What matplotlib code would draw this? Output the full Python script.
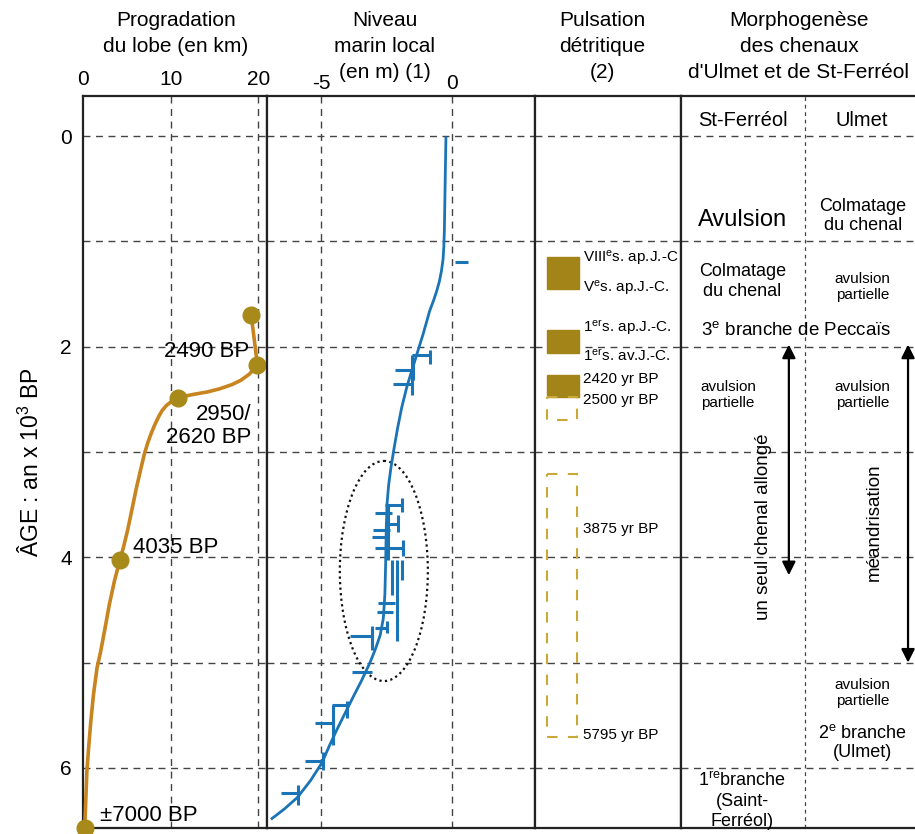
import matplotlib
matplotlib.use("Agg")
import matplotlib.pyplot as plt
from matplotlib.patches import Rectangle, Ellipse

plt.rcParams['font.family'] = ['Liberation Sans', 'DejaVu Sans']
plt.rcParams['mathtext.default'] = 'regular'
plt.rcParams['axes.unicode_minus'] = False

# --- data -------------------------------------------------------------
age_ticks = [0, 2, 4, 6]
grid_ages = [0, 1, 2, 3, 4, 5, 6]

# lobe progradation (km) vs age (x1000 yr BP)
lobe_km = [19.2, 19.9, 19.0, 18.0, 17.0, 15.6, 14.2, 12.8, 11.6, 10.8, 10.1, 9.5,
           9.0, 8.6, 8.2, 7.8, 7.4, 7.0, 6.6, 6.1, 5.6, 5.1, 4.6, 4.2,
           3.6, 3.0, 2.5, 2.0, 1.6, 1.2, 0.9, 0.65, 0.45, 0.32, 0.2]
lobe_age = [1.70, 2.17, 2.26, 2.32, 2.36, 2.40, 2.43, 2.45, 2.47, 2.49, 2.52, 2.56,
            2.61, 2.67, 2.74, 2.82, 2.91, 3.02, 3.16, 3.34, 3.54, 3.74, 3.91, 4.03,
            4.22, 4.45, 4.68, 4.90, 5.05, 5.30, 5.55, 5.80, 6.02, 6.30, 6.57]
dated_km = [19.2, 19.9, 10.8, 4.2, 0.2]
dated_age = [1.70, 2.17, 2.49, 4.03, 6.57]

# local sea level (m) vs age
sea_m = [-0.23, -0.25, -0.27, -0.29, -0.31, -0.34, -0.40, -0.48, -0.58, -0.70,
         -0.85, -1.1, -1.40, -1.72, -1.92, -2.08, -2.22, -2.33, -2.42, -2.48,
         -2.51, -2.53, -2.56, -2.62, -2.74, -2.92, -3.13, -3.45, -3.78, -4.1,
         -4.4, -4.68, -4.96, -5.4, -5.9, -6.4, -6.87]
sea_age = [0.02, 0.3, 0.6, 0.9, 1.05, 1.17, 1.28, 1.38, 1.47, 1.56,
           1.66, 1.88, 2.12, 2.38, 2.58, 2.78, 2.98, 3.15, 3.32, 3.5,
           3.75, 4.05, 4.35, 4.58, 4.74, 4.87, 5.0, 5.17, 5.33, 5.49,
           5.64, 5.79, 5.95, 6.12, 6.28, 6.39, 6.48]

# sample bars: horizontal ranges and vertical ranges
hbar_age = [1.20, 2.08, 2.22, 2.35, 3.50, 3.58, 3.68, 3.74, 3.81, 3.91, 4.43, 4.52,
            4.67, 4.75, 5.09, 5.40, 5.57, 5.93, 6.24]
hbar_lo = [0.11, -1.53, -2.18, -2.25, -2.56, -2.94, -2.56, -3.02, -3.05, -2.94, -2.82, -2.86,
           -2.94, -3.89, -3.82, -4.58, -5.23, -5.61, -6.53]
hbar_hi = [0.61, -0.84, -1.49, -1.53, -1.91, -2.29, -2.06, -2.37, -2.44, -1.87, -2.18, -2.25,
           -2.48, -3.05, -3.05, -4.01, -4.58, -4.92, -5.88]
vbar_m = [-0.84, -1.49, -1.53, -1.91, -2.06, -1.87, -2.44, -2.29, -2.10, -1.91,
          -2.48, -3.05, -4.01, -4.54, -4.92, -5.88]
vbar_top = [2.03, 2.11, 2.08, 3.44, 3.60, 3.84, 3.50, 4.03, 4.03, 4.03,
            4.60, 4.65, 5.36, 5.40, 5.85, 6.16]
vbar_bot = [2.16, 2.32, 2.46, 3.57, 3.76, 3.99, 4.03, 4.36, 4.79, 4.22,
            4.72, 4.88, 5.53, 5.78, 6.02, 6.35]

# detrital pulses
pulse_top = [1.15, 1.84, 2.27]
pulse_bot = [1.45, 2.06, 2.48]
pulse_dash_top = [2.48, 3.21]
pulse_dash_bot = [2.70, 5.71]
pulse_labels = ['VIII$^{e}$s. ap.J.-C', 'V$^{e}$s. ap.J.-C.', '1$^{er}$s. ap.J.-C.',
                '1$^{er}$s. av.J.-C.', '2420 yr BP', '2500 yr BP', '3875 yr BP', '5795 yr BP']
pulse_label_age = [1.16, 1.45, 1.82, 2.09, 2.31, 2.51, 3.73, 5.69]

# --- layout -----------------------------------------------------------
W, H = 915, 834
fig = plt.figure(figsize=(W / 100, H / 100), dpi=100)


def box(x0, x1, y0=96, y1=828):
    return [x0 / W, 1 - y1 / H, (x1 - x0) / W, (y1 - y0) / H]


ax1 = fig.add_axes(box(83, 267))
ax2 = fig.add_axes(box(267, 535))
ax3 = fig.add_axes(box(535, 681))
ax4 = fig.add_axes(box(681, 917))

ylim = (6.57, -0.38)
grid_kw = dict(color='#444444', lw=1.0, ls=(0, (5, 4)), zorder=1)
for ax in (ax1, ax2, ax3, ax4):
    ax.set_ylim(*ylim)
    for a in grid_ages:
        ax.axhline(a, **grid_kw)
    for s in ax.spines.values():
        s.set_linewidth(1.6)
        s.set_color('#222222')
    ax.tick_params(length=0)
    ax.set_yticks([])
    ax.set_xticks([])
ax4.spines['right'].set_visible(False)

# panel 1 : lobe progradation
ax1.set_xlim(0, 21.0)
ax1.set_yticks(age_ticks)
ax1.tick_params(axis='y', labelsize=15, pad=8)
ax1.xaxis.tick_top()
ax1.set_xticks([0, 10, 20])
ax1.tick_params(axis='x', labelsize=15, pad=5)
for k in (10, 20):
    ax1.axvline(k, **grid_kw)
ax1.plot(lobe_km, lobe_age, color='#c8841e', lw=2.6, zorder=3, clip_on=False,
         solid_joinstyle='round')
ax1.plot(dated_km, dated_age, 'o', ms=12, color='#a88a1a', zorder=4, clip_on=False)
ax1.text(19.0, 2.05, '2490 BP', fontsize=16, ha='right', va='center', zorder=3)
ax1.text(19.2, 2.75, '2950/\n2620 BP', fontsize=16, ha='right', va='center',
         multialignment='right', linespacing=1.12, zorder=5)
ax1.text(5.75, 3.91, '4035 BP', fontsize=16, ha='left', va='center', zorder=5)
ax1.text(1.95, 6.45, '±7000 BP', fontsize=16, ha='left', va='center', zorder=5)
ax1.set_ylabel('ÂGE : an x 10$^{3}$ BP', fontsize=16.5, labelpad=12)

# panel 2 : local sea level
ax2.set_xlim(-7.06, 3.17)
ax2.xaxis.tick_top()
ax2.set_xticks([-5, 0])
ax2.tick_params(axis='x', labelsize=15, pad=2)
for m in (-5, 0):
    ax2.axvline(m, **grid_kw)
blue = '#1a74b5'
ax2.plot(sea_m, sea_age, color=blue, lw=2.0, zorder=3, solid_joinstyle='round')
ax2.hlines(hbar_age, hbar_lo, hbar_hi, color=blue, lw=2.2, zorder=3)
ax2.vlines(vbar_m, vbar_top, vbar_bot, color=blue, lw=2.2, zorder=3)
ax2.add_patch(Ellipse((-2.6, 4.13), 3.36, 2.09, fill=False, ls=(0, (1, 1.5)),
                      lw=1.6, color='#111111', zorder=2))

# panel 3 : detrital pulses
ax3.set_xlim(0, 1)
olive = '#a38419'
for t, b in zip(pulse_top, pulse_bot):
    ax3.add_patch(Rectangle((0.082, t), 0.218, b - t, color=olive, zorder=2))
for t, b in zip(pulse_dash_top, pulse_dash_bot):
    ax3.add_patch(Rectangle((0.082, t), 0.205, b - t, fill=False, ec='#c9a838',
                            lw=1.5, ls=(0, (5, 5)), zorder=2))
for lab, a in zip(pulse_labels, pulse_label_age):
    ax3.text(0.33, a, lab, fontsize=11, ha='left', va='center', zorder=4)

# panel 4 : channel morphogenesis
ax4.set_xlim(0, 1)
ax4.axvline(0.526, color='#444444', lw=0.9, ls=(0, (3, 3)), zorder=1)
t4 = [
    (0.261, -0.15, 'St-Ferréol', 14.5),
    (0.765, -0.15, 'Ulmet', 14.5),
    (0.261, 0.80, 'Avulsion', 17),
    (0.77, 0.76, 'Colmatage\ndu chenal', 13),
    (0.26, 1.38, 'Colmatage\ndu chenal', 13),
    (0.77, 1.43, 'avulsion\npartielle', 11),
    (0.487, 1.84, '3$^{e}$ branche de Peccaïs', 13.5),
    (0.20, 2.46, 'avulsion\npartielle', 11),
    (0.77, 2.46, 'avulsion\npartielle', 11),
    (0.77, 5.29, 'avulsion\npartielle', 11),
    (0.77, 5.76, '2$^{e}$ branche\n(Ulmet)', 13),
    (0.26, 6.31, '1$^{re}$branche\n(Saint-\nFerréol)', 13),
]
for x, a, s, fs in t4:
    ax4.text(x, a, s, fontsize=fs, ha='center', va='center', linespacing=1.2,
             zorder=4)
ax4.text(0.35, 3.71, 'un seul chenal allongé', fontsize=13.5, rotation=90,
         ha='center', va='center', zorder=4)
ax4.text(0.82, 3.67, 'méandrisation', fontsize=13.5, rotation=90,
         ha='center', va='center', zorder=4)
arrow_kw = dict(arrowstyle='<|-|>', color='black', lw=1.6, mutation_scale=20,
                shrinkA=0, shrinkB=0)
ax4.annotate('', xy=(0.457, 1.98), xytext=(0.457, 4.17), arrowprops=arrow_kw,
             zorder=5)
ax4.annotate('', xy=(0.962, 1.98), xytext=(0.962, 5.0), arrowprops=arrow_kw,
             zorder=5, annotation_clip=False)

# column headings
heads = [
    (176, ['Progradation', 'du lobe (en km)']),
    (385, ['Niveau', 'marin local', '(en m) (1)']),
    (602, ['Pulsation', 'détritique', '(2)']),
    (799, ['Morphogenèse', 'des chenaux', "d'Ulmet et de St-Ferréol"]),
]
for x, lines in heads:
    for i, s in enumerate(lines):
        fig.text(x / W, 1 - (21 + 25.5 * i) / H, s, fontsize=15,
                 ha='center', va='center')

fig.savefig('out.png', dpi=100)
